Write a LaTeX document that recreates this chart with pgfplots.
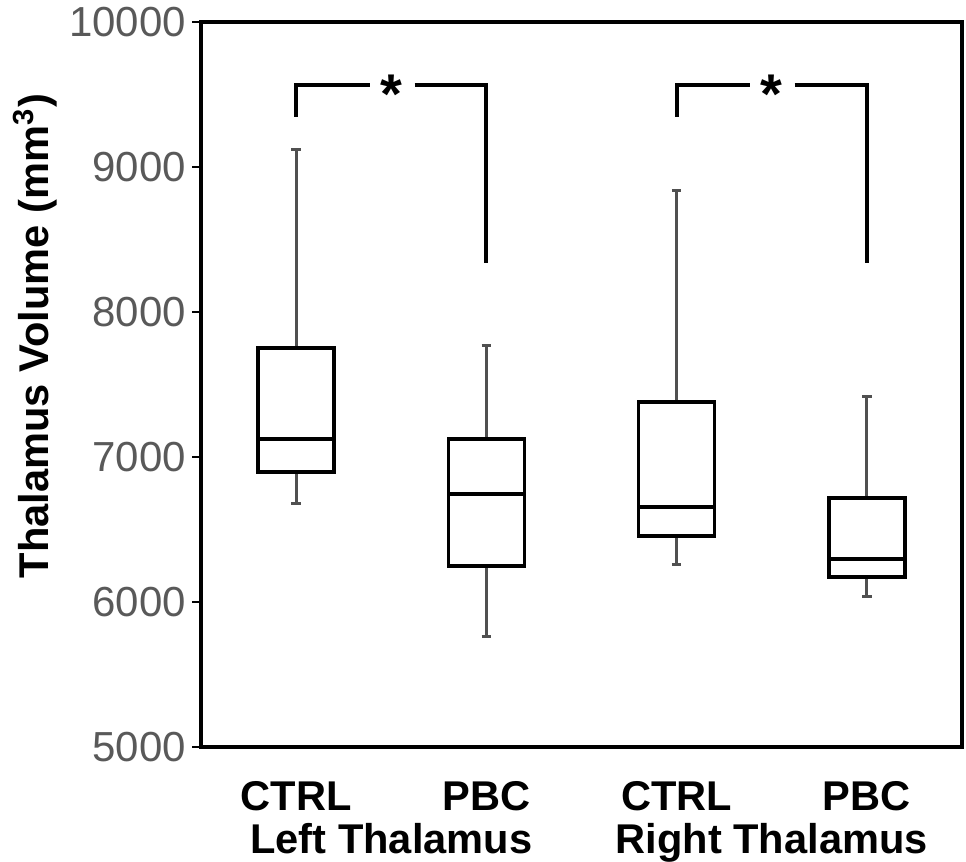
\documentclass[border=0pt]{standalone}
\usepackage{fontspec}
\setmainfont{Liberation Sans}
\usepackage{pgfplots}
\pgfplotsset{compat=1.18}
\usepgfplotslibrary{statistics}
\definecolor{tickgray}{HTML}{595959}
\definecolor{whiskgray}{HTML}{505050}
\begin{document}
\begin{tikzpicture}
\begin{axis}[
  scale only axis,
  width=190.25pt, height=181.25pt,
  xmin=0.5, xmax=4.5, ymin=5000, ymax=10000,
  ytick={5000,6000,7000,8000,9000,10000},
  scaled y ticks=false,
  xtick={1,2,3,4},
  xticklabels={CTRL,PBC,CTRL,PBC},
  extra x ticks={1.5,3.5},
  extra x tick labels={Left Thalamus,Right Thalamus},
  extra x tick style={tick style={draw=none}, tick label style={yshift=-10.5pt}},
  axis line style={line width=0.9pt},
  tick align=outside, ytick pos=left, xtick pos=bottom,
  major tick length=2.2pt,
  x tick style={draw=none},
  y tick style={line width=0.7pt, black},
  yticklabel style={font=\fontsize{10.5}{12}\selectfont, text=tickgray, xshift=2pt},
  xticklabel style={font=\fontsize{10.4}{12}\selectfont\bfseries, yshift=-2.8pt},
  /pgf/number format/assume math mode=true,
  /pgf/number format/1000 sep={},
  ylabel={Thalamus Volume (mm\textsuperscript{3})},
  ylabel style={font=\fontsize{10.4}{12}\selectfont\bfseries, at={(axis description cs:-0.218,0.567)}, anchor=center},
  boxplot/draw direction=y,
  boxplot/box extend=0.4,
  boxplot/whisker extend=0.05,
  boxplot/every box/.style={draw=black, line width=0.9pt},
  boxplot/every median/.style={draw=black, line width=0.9pt},
  boxplot/every whisker/.style={draw=whiskgray, line width=0.75pt},
]
% Left thalamus
\addplot[black, boxplot prepared={lower whisker=6676, lower quartile=6897, median=7124, upper quartile=7752, upper whisker=9124, draw position=1}] coordinates {};
\addplot[black, boxplot prepared={lower whisker=5759, lower quartile=6248, median=6745, upper quartile=7124, upper whisker=7766, draw position=2}] coordinates {};
% Right thalamus
\addplot[black, boxplot prepared={lower whisker=6262, lower quartile=6455, median=6655, upper quartile=7379, upper whisker=8841, draw position=3}] coordinates {};
\addplot[black, boxplot prepared={lower whisker=6041, lower quartile=6172, median=6297, upper quartile=6717, upper whisker=7414, draw position=4}] coordinates {};
% significance brackets
\addplot[black, line width=1pt, mark=none] coordinates {(1,9345) (1,9566) (1.386,9566)};
\addplot[black, line width=1pt, mark=none] coordinates {(1.623,9566) (2,9566) (2,8338)};
\addplot[black, line width=1pt, mark=none] coordinates {(3,9345) (3,9566) (3.384,9566)};
\addplot[black, line width=1pt, mark=none] coordinates {(3.62,9566) (4,9566) (4,8338)};
\node[anchor=base, font=\fontsize{14}{14}\selectfont\bfseries] at (axis cs:1.5,9372) {*};
\node[anchor=base, font=\fontsize{14}{14}\selectfont\bfseries] at (axis cs:3.5,9372) {*};
\end{axis}
\pgfresetboundingbox
\path[use as bounding box] ([xshift=-50.25pt,yshift=-28.5pt]current axis.south west) rectangle ([xshift=1pt,yshift=5.5pt]current axis.north east);
\end{tikzpicture}
\end{document}
